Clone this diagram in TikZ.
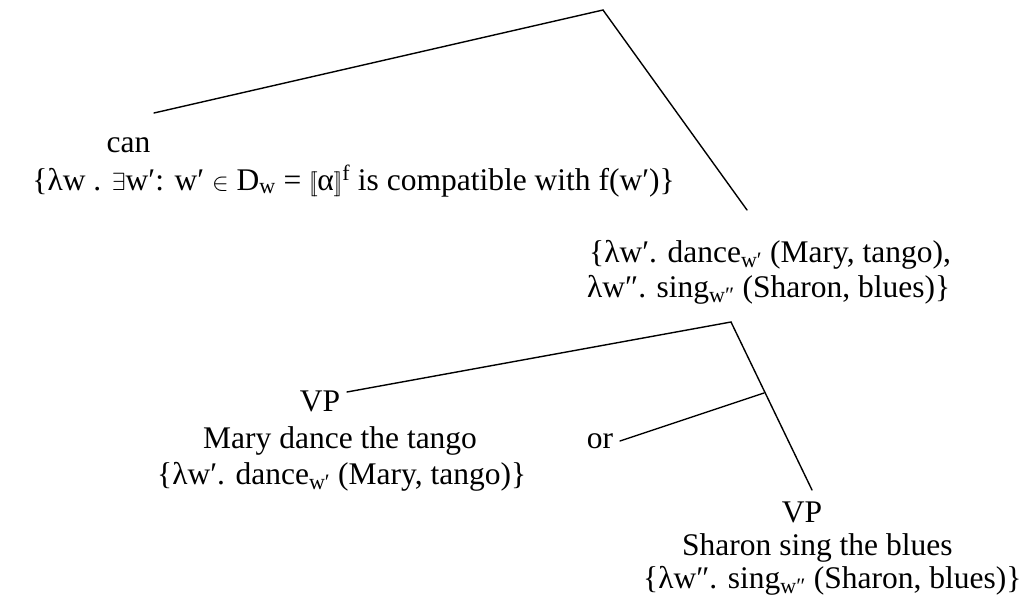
\documentclass[tikz,border=0pt]{standalone}
\usepackage{fontspec}
\setmainfont{Liberation Serif}
\newcommand{\sbw}[1]{\textsubscript{#1}}
\begin{document}
\begin{tikzpicture}[x=1pt,y=-1pt,
  txt/.style={inner sep=0pt, anchor=base, font=\fontsize{31.5}{37}\selectfont},
  txtl/.style={txt, anchor=base west},
  txtr/.style={txt, anchor=base east},
  edge/.style={line width=1.4pt, line cap=round}]
\useasboundingbox (0,0) rectangle (1021,602);
% top tree
\coordinate (top) at (603,10);
\coordinate (lend) at (154,113);
\coordinate (rend) at (747,210);
\node[txt] (can) at (128.5,152) {can};
\node[txtr] (canden) at (675,190) {\{λw . $\exists$w′: w′ $\in$ D\sbw{w} = $[\![$α$]\!]$\textsuperscript{f} is compatible with f(w′)\}};
\node[txtl] (r1) at (589,262) {\{λw′. dance\sbw{w′} (Mary, tango),};
\node[txtl] (r2) at (587,297) {λw″. sing\sbw{w″} (Sharon, blues)\}};
% lower tree
\coordinate (sub) at (731,322);
\coordinate (vpl) at (347,392);
\coordinate (vpr) at (812,490);
\coordinate (orj) at (764,393);
\coordinate (orl) at (620,441);
\node[txt] (vp1) at (320,411) {VP};
\node[txtl] (m1) at (203,448) {Mary dance the tango};
\node[txtl] (m2) at (157,484) {\{λw′. dance\sbw{w′} (Mary, tango)\}};
\node[txt] (or) at (600,448) {or};
\node[txt] (vp2) at (802,522) {VP};
\node[txtl] (s1) at (682,555) {Sharon sing the blues};
\node[txtl] (s2) at (643,588) {\{λw″. sing\sbw{w″} (Sharon, blues)\}};
\draw[edge] (lend) -- (top) -- (rend);
\draw[edge] (vpl) -- (sub) -- (vpr);
\draw[edge] (orl) -- (orj);
\end{tikzpicture}
\end{document}
